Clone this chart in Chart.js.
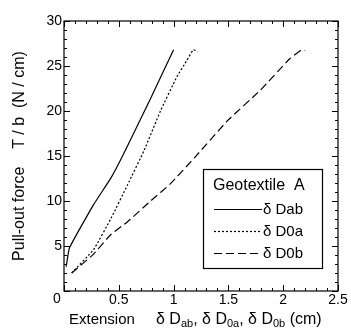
<!DOCTYPE html>
<html>
<head>
<meta charset="utf-8">
<script src="https://cdn.jsdelivr.net/npm/chart.js@4.4.1/dist/chart.umd.min.js"></script>
<style>
  html, body { margin: 0; padding: 0; background: #fff; }
  #wrap { width: 351px; height: 334px; }
</style>
</head>
<body>
<div id="wrap"><canvas id="c" width="351" height="334"></canvas></div>
<script>
// ---- data ----
const seriesNames = ['Dab', 'D0a', 'D0b'];
const legendTitle = 'Geotextile  A';
const abX = [0.02, 0.05, 0.27, 0.43, 0.55, 0.79, 1.0];
const abY = [2.7, 4.8, 9.6, 12.6, 15.4, 21.4, 26.8];
const oaX = [0.07, 0.27, 0.43, 0.58, 0.73, 0.88, 1.03, 1.12, 1.18, 1.22];
const oaY = [2.0, 4.6, 8.1, 11.8, 15.6, 20.0, 23.8, 25.6, 26.8, 26.6];
const obX = [0.07, 0.27, 0.43, 0.58, 0.79, 0.97, 1.19, 1.49, 1.79, 2.06, 2.17, 2.2];
const obY = [2.0, 4.1, 6.3, 7.7, 10.0, 11.9, 14.8, 18.9, 22.3, 25.8, 26.8, 26.7];
const xTickLabels = ['0', '0.5', '1', '1.5', '2', '2.5'];
const yTickLabels = ['0', '5', '10', '15', '20', '25', '30'];
const yTitle = 'Pull-out force    T / b  (N / cm)';
const xTitleMain = 'Extension';
const xTitleParts = [['δ D', 'ab'], [', δ D', '0a'], [', δ D', '0b'], [' (cm)', '']];

const pts = (xs, ys) => xs.map((x, i) => ({ x: x, y: ys[i] }));
const FONT = '"Liberation Sans", Arial, Helvetica, sans-serif';

const styles = [
  { dash: [] },
  { dash: [2, 2] },
  { dash: [8, 4] }
];

const framePlugin = {
  id: 'frame',
  afterDraw(chart) {
    const ctx = chart.ctx;
    const a = chart.chartArea;
    const xs = chart.scales.x, ys = chart.scales.y;
    ctx.save();
    ctx.strokeStyle = '#000';
    ctx.lineWidth = 1.2;
    ctx.setLineDash([]);
    ctx.strokeRect(a.left, a.top, a.right - a.left, a.bottom - a.top);
    ctx.lineWidth = 1;
    ctx.beginPath();
    for (let i = 0; i <= 25; i++) {
      const px = Math.round(xs.getPixelForValue(i / 10)) + 0.5;
      const len = i % 5 === 0 ? 6 : 3;
      ctx.moveTo(px, a.bottom); ctx.lineTo(px, a.bottom - len);
      ctx.moveTo(px, a.top); ctx.lineTo(px, a.top + len);
    }
    for (let i = 0; i <= 30; i++) {
      const py = Math.round(ys.getPixelForValue(i)) + 0.5;
      const len = i % 5 === 0 ? 6 : 3;
      ctx.moveTo(a.left, py); ctx.lineTo(a.left + len, py);
      ctx.moveTo(a.right, py); ctx.lineTo(a.right - len, py);
    }
    ctx.stroke();

    // corner zero label
    ctx.fillStyle = '#000';
    ctx.font = '14px ' + FONT;
    ctx.textAlign = 'center';
    ctx.textBaseline = 'middle';
    ctx.fillText(xTickLabels[0], xs.getPixelForValue(0) - 7, ys.getPixelForValue(0) + 8);

    // x axis title with subscripts
    const ty = 319;
    ctx.textAlign = 'left';
    ctx.textBaseline = 'alphabetic';
    ctx.font = '15px ' + FONT;
    ctx.fillText(xTitleMain, 69, ty + 5);
    let x = 156;
    xTitleParts.forEach(([main, sub]) => {
      ctx.font = '16px ' + FONT;
      ctx.fillText(main, x, ty + 5);
      x += ctx.measureText(main).width;
      if (sub) {
        ctx.font = '11px ' + FONT;
        ctx.fillText(sub, x, ty + 8);
        x += ctx.measureText(sub).width;
      }
    });

    // legend box
    ctx.lineWidth = 1.2;
    ctx.strokeRect(203.5, 169.5, 119, 99);
    ctx.font = '16px ' + FONT;
    ctx.textBaseline = 'middle';
    ctx.fillText(legendTitle, 213, 186);
    const rows = [209, 231, 253];
    rows.forEach((ry, i) => {
      ctx.setLineDash(styles[i].dash);
      ctx.lineWidth = 1.2;
      ctx.beginPath();
      ctx.moveTo(214, ry + 0.5);
      ctx.lineTo(262, ry + 0.5);
      ctx.stroke();
      ctx.setLineDash([]);
      ctx.font = '15px ' + FONT;
      ctx.fillText('δ ' + seriesNames[i], 263, ry + 1);
    });
    ctx.restore();
  }
};

const mkSet = (label, data, i) => ({
  label: label,
  data: data,
  borderColor: '#000',
  borderWidth: 1.2,
  borderDash: styles[i].dash,
  pointRadius: 0,
  tension: 0.12,
  fill: false
});

new Chart(document.getElementById('c'), {
  type: 'line',
  data: {
    datasets: [
      mkSet('δ ' + seriesNames[0], pts(abX, abY), 0),
      mkSet('δ ' + seriesNames[1], pts(oaX, oaY), 1),
      mkSet('δ ' + seriesNames[2], pts(obX, obY), 2)
    ]
  },
  options: {
    responsive: false,
    animation: false,
    devicePixelRatio: 1,
    layout: { padding: { left: 0, right: 13, top: 21, bottom: 0 } },
    plugins: { legend: { display: false }, tooltip: { enabled: false } },
    scales: {
      x: {
        type: 'linear', min: 0, max: 2.5,
        afterFit: s => { s.height = 43; },
        grid: { display: false, drawTicks: false },
        border: { display: false },
        ticks: {
          stepSize: 0.5, padding: 1, color: '#000', autoSkip: false, maxRotation: 0,
          font: { family: FONT, size: 14 },
          callback: (v) => {
            const i = Math.round(v * 2);
            return i === 0 ? '' : xTickLabels[i];
          }
        }
      },
      y: {
        type: 'linear', min: 0, max: 30,
        afterFit: s => { s.width = 64; },
        grid: { display: false, drawTicks: false },
        border: { display: false },
        title: {
          display: true, text: yTitle, color: '#000',
          font: { family: FONT, size: 16 }, padding: { top: 10, bottom: 0 }
        },
        ticks: {
          stepSize: 5, padding: 2, color: '#000',
          font: { family: FONT, size: 14 },
          callback: (v) => {
            const i = Math.round(v / 5);
            return i === 0 ? '' : yTickLabels[i];
          }
        }
      }
    }
  },
  plugins: [framePlugin]
});
</script>
</body>
</html>
